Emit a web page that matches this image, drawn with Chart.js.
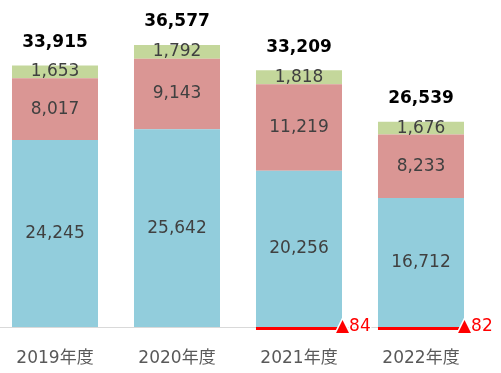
<!DOCTYPE html>
<html>
<head>
<meta charset="utf-8">
<script src="https://cdn.jsdelivr.net/npm/chart.js@4"></script>
<style>
  html, body { margin: 0; padding: 0; background: #fff; overflow: hidden; }
  #wrap { position: relative; width: 501px; height: 373px; overflow: hidden; }
  #grafik { position: absolute; left: -6px; top: 0; }
</style>
</head>
<body>
<div id="wrap"><canvas id="grafik" width="507" height="373"></canvas></div>
<script>
const years = ["2019年度", "2020年度", "2021年度", "2022年度"];
const blueVals = [24245, 25642, 20256, 16712];
const redVals = [8017, 9143, 11219, 8233];
const greenVals = [1653, 1792, 1818, 1676];
const minusVals = [null, null, -84, -82];

const totals = years.map((y, i) => blueVals[i] + redVals[i] + greenVals[i] + (minusVals[i] || 0));

const FONT = "'DejaVu Sans', 'Noto Sans CJK JP', sans-serif";

const labelPlugin = {
  id: "valueLabels",
  afterDatasetsDraw(chart) {
    const ctx = chart.ctx;
    ctx.save();
    ctx.textAlign = "center";
    ctx.textBaseline = "middle";

    // values inside the segments
    ctx.font = "17px " + FONT;
    ctx.fillStyle = "#404040";
    [0, 1, 2].forEach(i => {
      const vals = chart.data.datasets[i].data;
      chart.getDatasetMeta(i).data.forEach((bar, j) => {
        ctx.fillText(vals[j].toLocaleString("en-US"), bar.x, (bar.y + bar.base) / 2);
      });
    });

    // negative values next to the red line
    const zeroY = chart.scales.y.getPixelForValue(0);
    ctx.textAlign = "left";
    chart.getDatasetMeta(3).data.forEach((bar, j) => {
      const v = minusVals[j];
      if (v == null) return;
      const txt = "▲" + Math.abs(v);
      const x = bar.x + bar.width / 2 - 6;
      ctx.strokeStyle = "#fff";
      ctx.lineWidth = 3;
      ctx.strokeText(txt, x, zeroY);
      ctx.fillStyle = "#FF0000";
      ctx.fillText(txt, x, zeroY);
    });

    // totals above the stack
    ctx.textAlign = "center";
    ctx.font = "bold 17px " + FONT;
    ctx.fillStyle = "#000";
    chart.getDatasetMeta(2).data.forEach((bar, j) => {
      ctx.fillText(totals[j].toLocaleString("en-US"), bar.x, bar.y - 23);
    });
    ctx.restore();
  }
};

new Chart(document.getElementById("grafik"), {
  type: "bar",
  data: {
    labels: years,
    datasets: [
      { label: "blue", data: blueVals, backgroundColor: "#92CDDC" },
      { label: "red", data: redVals, backgroundColor: "#DA9694" },
      { label: "green", data: greenVals, backgroundColor: "#C4D79B" },
      { label: "minus", data: minusVals, backgroundColor: "#FF0000", minBarLength: 3, clip: false }
    ]
  },
  options: {
    responsive: false,
    animation: false,
    layout: { padding: { left: 0, right: 19, top: 0, bottom: 0 } },
    datasets: { bar: { categoryPercentage: 1, barPercentage: 0.705 } },
    plugins: { legend: { display: false }, tooltip: { enabled: false } },
    scales: {
      x: {
        stacked: true,
        grid: { display: false, drawTicks: false },
        border: { display: true, color: "#D9D9D9", width: 1 },
        ticks: { color: "#595959", font: { size: 17, family: FONT }, padding: 21 },
        afterFit(scale) { scale.height = 46; }
      },
      y: {
        stacked: true,
        display: false,
        min: 0,
        max: 42400
      }
    }
  },
  plugins: [labelPlugin]
});
</script>
</body>
</html>
